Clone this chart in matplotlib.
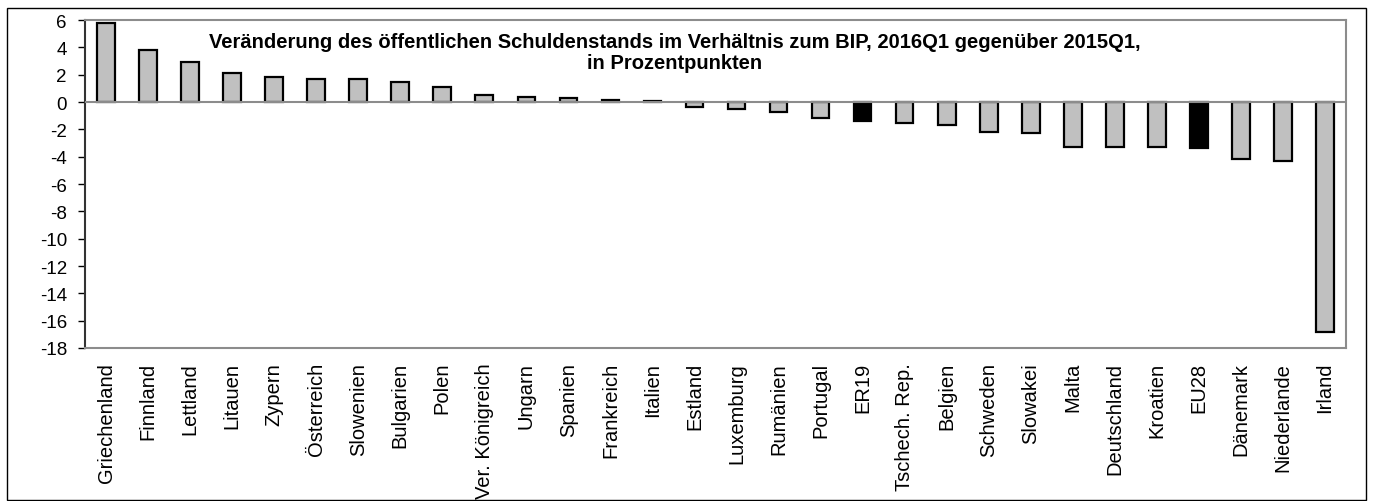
import matplotlib
matplotlib.use("Agg")
import matplotlib.pyplot as plt
from matplotlib.patches import Rectangle

plt.rcParams["font.family"] = ["Liberation Sans", "DejaVu Sans"]

countries = [
    "Griechenland", "Finnland", "Lettland", "Litauen", "Zypern", "Österreich",
    "Slowenien", "Bulgarien", "Polen", "Ver. Königreich", "Ungarn", "Spanien",
    "Frankreich", "Italien", "Estland", "Luxemburg", "Rumänien", "Portugal",
    "ER19", "Tschech. Rep.", "Belgien", "Schweden", "Slowakei", "Malta",
    "Deutschland", "Kroatien", "EU28", "Dänemark", "Niederlande", "Irland",
]
change_pp = [
    5.8, 3.8, 2.9, 2.1, 1.8, 1.7,
    1.7, 1.5, 1.1, 0.5, 0.4, 0.3,
    0.15, 0.05, -0.4, -0.5, -0.7, -1.2,
    -1.4, -1.5, -1.7, -2.2, -2.3, -3.3,
    -3.3, -3.3, -3.4, -4.2, -4.3, -16.8,
]
aggregates = {"ER19", "EU28"}
yticks = list(range(-18, 7, 2))

W, H = 1373, 502
fig = plt.figure(figsize=(W / 100, H / 100), dpi=100)

# outer chart-area frame
fig.patches.append(Rectangle((7 / W, 1 / H), 1359 / W, 492 / H,
                             transform=fig.transFigure, fill=False,
                             edgecolor="black", linewidth=1.0))

ax = fig.add_axes([85 / W, (H - 349) / H, 1261 / W, 328 / H])

colors = ["black" if c in aggregates else "#c0c0c0" for c in countries]
x = range(len(countries))
ax.bar(x, change_pp, width=0.42, color=colors, edgecolor="black",
       linewidth=1.6, zorder=2)
ax.axhline(0, color="#8c8c8c", linewidth=1.5, zorder=3)

ax.set_xlim(-0.5, len(countries) - 0.5)
ax.set_ylim(-18, 6)
ax.set_yticks(yticks)
ax.set_yticklabels([str(t) for t in yticks], fontsize=13.5)
ax.set_xticks(list(x))
ax.set_xticklabels(countries, rotation=90, fontsize=14.5, ha="center", va="top")
ax.tick_params(axis="x", length=0, pad=10)
ax.tick_params(axis="y", direction="out", length=5, width=1, pad=8)

for side in ("top", "right", "bottom"):
    ax.spines[side].set_color("#8c8c8c")
    ax.spines[side].set_linewidth(1.5)
ax.spines["left"].set_color("#333333")
ax.spines["left"].set_linewidth(1.5)

ax.text((675 - 85) / 1261, 1 - (53 - 21) / 328,
        "Veränderung des öffentlichen Schuldenstands im Verhältnis zum BIP, "
        "2016Q1 gegenüber 2015Q1,\nin Prozentpunkten",
        transform=ax.transAxes, ha="center", va="center", fontsize=14.5,
        fontweight="bold", linespacing=1.15)

fig.savefig("out.png", dpi=100)
